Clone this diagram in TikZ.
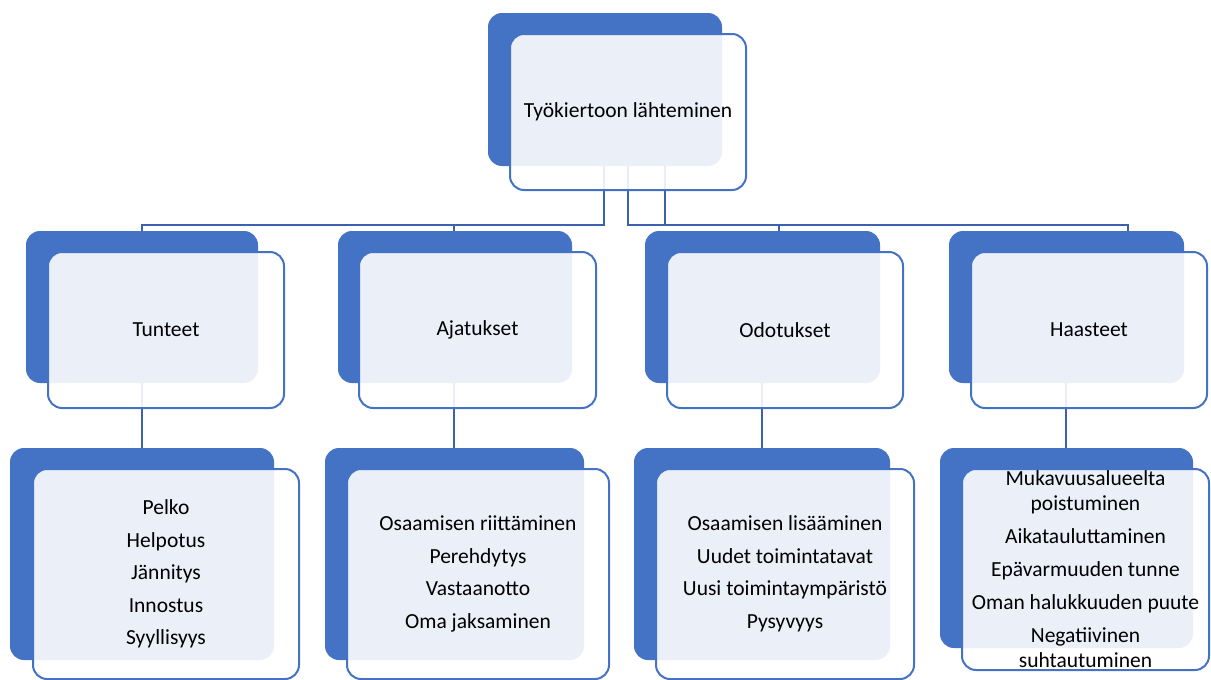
\documentclass[tikz,border=0pt]{standalone}
\usepackage{fontspec}
\setmainfont{Carlito}
\definecolor{accent}{HTML}{4472C4}
\definecolor{linkblue}{HTML}{3C62AE}
\begin{document}
\begin{tikzpicture}[x=1pt,y=-1pt,
  back/.style={fill=accent, rounded corners=14pt, anchor=north west, inner sep=0pt, outer sep=0pt},
  front/.style={draw=accent, line width=2pt, fill=white, fill opacity=0.89, text opacity=1,
    rounded corners=14pt, anchor=north west, inner sep=0pt, outer sep=0pt, align=center,
    font=\fontsize{21.5}{25}\selectfont},
  link/.style={draw=linkblue, line width=2pt}]
\useasboundingbox (0,0) rectangle (1211,680);

% connector anchor points
\coordinate (p1) at (604,166);
\coordinate (p2) at (628,166);
\coordinate (p3) at (665,166);
\coordinate (bus) at (0,225);

% connectors first, so the boxes sit on top of them
\draw[link] (p1) -- (p1 |- bus) -- (142,225) -- (142,231);
\draw[link] (p1) -- (p1 |- bus) -- (454,225) -- (454,231);
\draw[link] (p2) -- (p2 |- bus) -- (779,225) -- (779,231);
\draw[link] (p3) -- (p3 |- bus) -- (1128,225) -- (1128,231);
\draw[link] (142,383) -- (142,448);
\draw[link] (454,383) -- (454,448);
\draw[link] (762,383) -- (762,448);
\draw[link] (1066,383) -- (1066,448);

% root
\node[back, minimum width=234pt, minimum height=153pt] (rootb) at (488,13) {};
\node[front, minimum width=236pt, minimum height=156pt] (root) at (510,34) {Työkiertoon lähteminen};

% second level
\node[back, minimum width=232pt, minimum height=152pt] (t1b) at (26,231) {};
\node[front, minimum width=236pt, minimum height=156pt] (t1) at (48,252) {Tunteet};
\node[back, minimum width=234pt, minimum height=152pt] (t2b) at (338,231) {};
\node[front, minimum width=237pt, minimum height=156pt] (t2) at (359,252) {Ajatukset};
\node[back, minimum width=235pt, minimum height=152pt] (t3b) at (645,231) {};
\node[front, minimum width=236pt, minimum height=156pt] (t3) at (667,252) {Odotukset};
\node[back, minimum width=235pt, minimum height=152pt] (t4b) at (949,231) {};
\node[front, minimum width=236pt, minimum height=156pt] (t4) at (971,252) {Haasteet};

% third level
\node[back, minimum width=264pt, minimum height=212pt] (l1b) at (10,448) {};
\node[front, minimum width=266pt, minimum height=210pt] (l1) at (33,469)
  {Pelko\\[7.5pt]Helpotus\\[7.5pt]Jännitys\\[7.5pt]Innostus\\[7.5pt]Syyllisyys};
\node[back, minimum width=259pt, minimum height=212pt] (l2b) at (325,448) {};
\node[front, minimum width=262pt, minimum height=210pt] (l2) at (347,469)
  {Osaamisen riittäminen\\[7.5pt]Perehdytys\\[7.5pt]Vastaanotto\\[7.5pt]Oma jaksaminen};
\node[back, minimum width=256pt, minimum height=212pt] (l3b) at (634,448) {};
\node[front, minimum width=258pt, minimum height=210pt] (l3) at (656,469)
  {Osaamisen lisääminen\\[7.5pt]Uudet toimintatavat\\[7.5pt]Uusi toimintaympäristö\\[7.5pt]Pysyvyys};
\node[back, minimum width=253pt, minimum height=200pt] (l4b) at (940,448) {};
\node[front, minimum width=247pt, minimum height=201pt] (l4) at (962,469)
  {Mukavuusalueelta\\poistuminen\\[8pt]Aikatauluttaminen\\[8pt]Epävarmuuden tunne\\[8pt]Oman halukkuuden puute\\[8pt]Negatiivinen\\suhtautuminen};
\end{tikzpicture}
\end{document}
